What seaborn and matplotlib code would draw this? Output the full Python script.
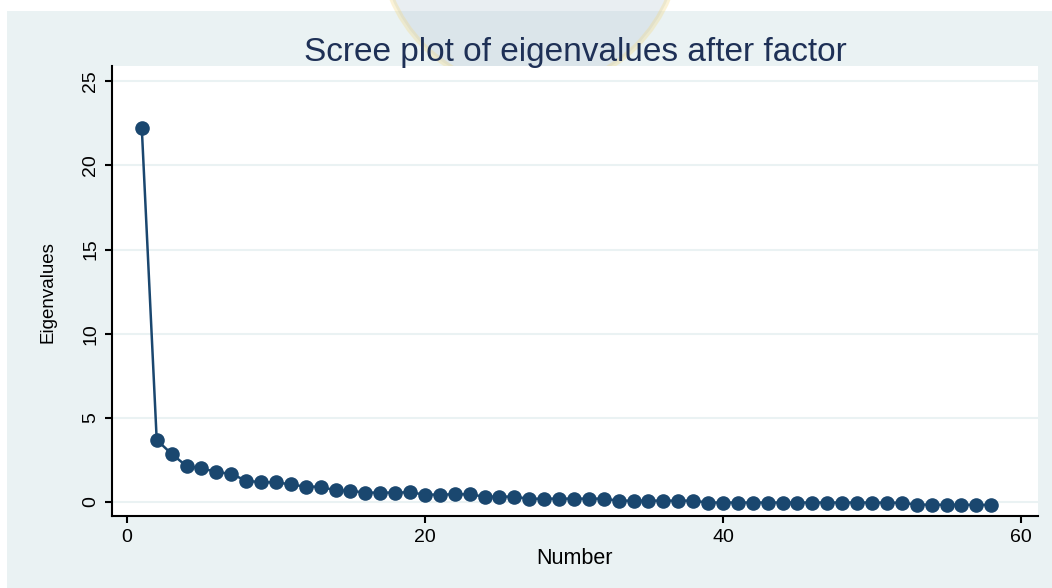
import numpy as np
import matplotlib.pyplot as plt
import seaborn as sns
import pandas as pd
from matplotlib.patches import Rectangle, Ellipse

# Eigenvalues (factor number 1..58)
numbers = list(range(1, 59))
eigenvalues = [22.2, 3.69, 2.86, 2.14, 2.0, 1.79, 1.67, 1.27, 1.17, 1.17,
               1.05, 0.91, 0.91, 0.69, 0.67, 0.56, 0.56, 0.56, 0.58, 0.44,
               0.44, 0.46, 0.46, 0.32, 0.32, 0.32, 0.19, 0.2, 0.2, 0.2,
               0.2, 0.2, 0.08, 0.08, 0.08, 0.08, 0.08, 0.08, -0.03, -0.03,
               -0.03, -0.03, -0.03, -0.03, -0.03, -0.03, -0.03, -0.03, -0.03, -0.03,
               -0.04, -0.04, -0.15, -0.16, -0.16, -0.16, -0.17, -0.17]
xticks = [0, 20, 40, 60]
yticks = [0, 5, 10, 15, 20, 25]

df = pd.DataFrame({'Number': numbers, 'Eigenvalues': eigenvalues})

sns.set_style('ticks')
plt.rcParams['font.family'] = ['Liberation Sans', 'DejaVu Sans']

navy = '#1A476F'
bg = '#EAF2F3'
W, H = 1052, 588

fig = plt.figure(figsize=(W / 100, H / 100), dpi=100, facecolor='white')
# outer graph region
fig.patches.append(Rectangle((7 / W, 0), 1 - 7 / W, 577 / H, transform=fig.transFigure,
                             facecolor=bg, edgecolor='none', zorder=0))
# faint logo watermark at the top
fig.patches.append(Ellipse((530 / W, 1 + 60 / H), 300 / W, 300 / H, transform=fig.transFigure,
                           facecolor='#B9C9D6', alpha=0.3, edgecolor='#F3D77A',
                           linewidth=4, zorder=1))

ax = fig.add_axes([112 / W, 72 / H, 926 / W, 450 / H])
ax.set_facecolor('white')
ax.set_zorder(2)

sns.lineplot(data=df, x='Number', y='Eigenvalues', ax=ax, color=navy, linewidth=1.8,
             marker='o', markersize=10.5, markeredgewidth=0, zorder=3)

ax.set_xlim(-1.0, 61.14)
ax.set_ylim(-0.83, 25.9)
ax.set_xticks(xticks)
ax.set_yticks(yticks)
ax.yaxis.grid(True, color=bg, linewidth=1.5)
ax.xaxis.grid(False)
ax.set_axisbelow(True)

for s in ['top', 'right']:
    ax.spines[s].set_visible(False)
for s in ['left', 'bottom']:
    ax.spines[s].set_color('black')
    ax.spines[s].set_linewidth(1.5)

ax.tick_params(axis='both', length=5, width=1.5, color='black', labelsize=14,
               labelcolor='black', pad=4)
for lab in ax.get_yticklabels():
    lab.set_rotation(90)
    lab.set_va('center')

ax.set_xlabel('')
ax.set_ylabel('')
fig.text(575 / W, 1 - 558 / H, 'Number', ha='center', va='center', fontsize=15.5, color='black')
fig.text(48 / W, 1 - 292 / H, 'Eigenvalues', ha='center', va='center', rotation=90,
         fontsize=13.5, color='black')
fig.text(575 / W, 1 - 52 / H, 'Scree plot of eigenvalues after factor', ha='center',
         va='center', fontsize=24, color='#1E3056')

fig.savefig('out.png', dpi=100, facecolor='white')
